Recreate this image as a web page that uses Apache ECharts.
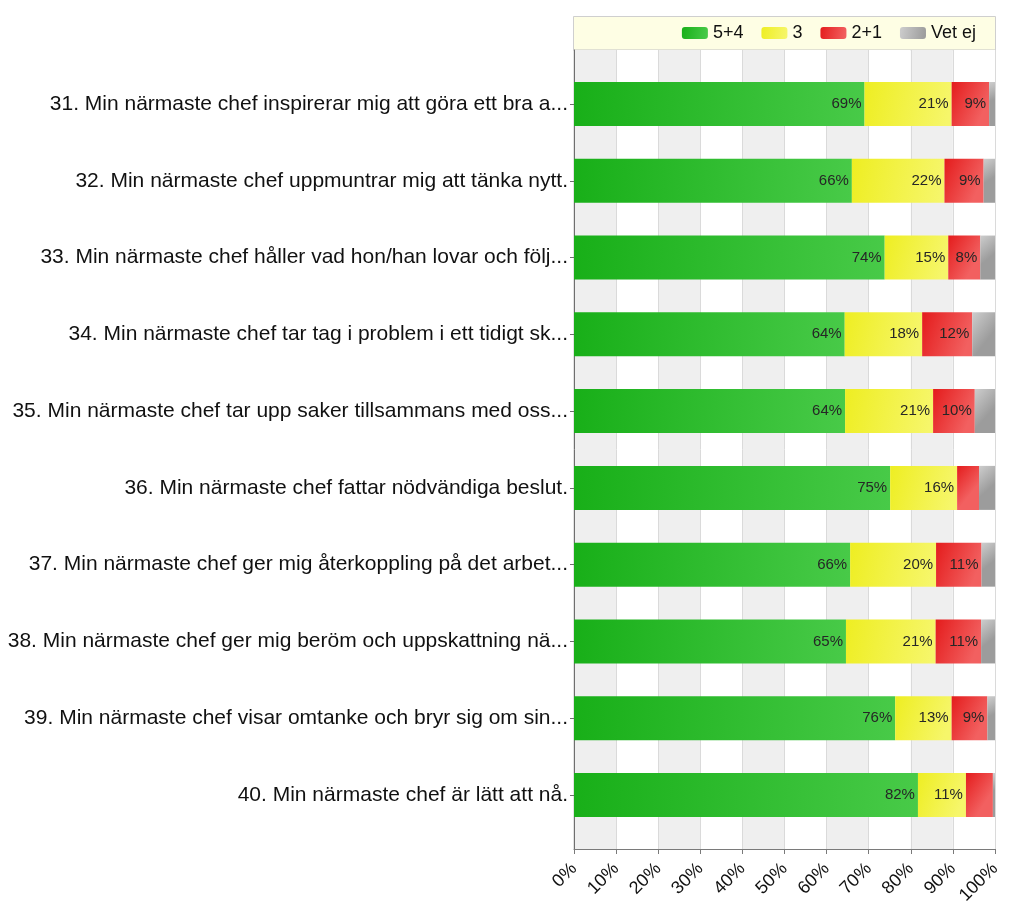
<!DOCTYPE html>
<html>
<head>
<meta charset="utf-8">
<script src="https://cdn.jsdelivr.net/npm/echarts@6/dist/echarts.min.js"></script>
<style>html,body{margin:0;padding:0;background:#fff}#c{width:1024px;height:924px}</style>
</head>
<body>
<div id="c"></div>
<script>
var categories = [
  "31. Min närmaste chef inspirerar mig att göra ett bra a...",
  "32. Min närmaste chef uppmuntrar mig att tänka nytt.",
  "33. Min närmaste chef håller vad hon/han lovar och följ...",
  "34. Min närmaste chef tar tag i problem i ett tidigt sk...",
  "35. Min närmaste chef tar upp saker tillsammans med oss...",
  "36. Min närmaste chef fattar nödvändiga beslut.",
  "37. Min närmaste chef ger mig återkoppling på det arbet...",
  "38. Min närmaste chef ger mig beröm och uppskattning nä...",
  "39. Min närmaste chef visar omtanke och bryr sig om sin...",
  "40. Min närmaste chef är lätt att nå."
];
var seriesNames = ["5+4", "3", "2+1", "Vet ej"];
var v54   = [69.0, 66.0, 73.8, 64.3, 64.4, 75.1, 65.6, 64.6, 76.3, 81.7];
var v3    = [20.7, 22.0, 15.1, 18.4, 20.9, 15.9, 20.4, 21.3, 13.4, 11.4];
var v21   = [8.9, 9.3, 7.6, 11.9, 9.9, 5.2, 10.8, 10.8, 8.5, 6.4];
var vVet  = [1.4, 2.7, 3.5, 5.4, 4.8, 3.8, 3.2, 3.3, 1.8, 0.5];
var xTicks = [0, 10, 20, 30, 40, 50, 60, 70, 80, 90, 100];

var FONT = "'Liberation Sans', Arial, sans-serif";
function grad(c0, c1) {
  return new echarts.graphic.LinearGradient(0, 0, 1, 0.4, [
    {offset: 0, color: c0}, {offset: 1, color: c1}
  ]);
}
var colors = [
  grad('#18af18', '#48ca48'),
  grad('#eeee22', '#f6f66a'),
  grad('#e41c1c', '#f26060'),
  grad('#cdcdcd', '#9c9c9c')
];
var dataSets = [v54, v3, v21, vVet];

var L = 574, R = 995, T = 50, B = 849, PAD = 15.6;
var chart = echarts.init(document.getElementById('c'), null, {renderer: 'canvas'});
var series = dataSets.map(function (d, i) {
  return {
    name: seriesNames[i],
    type: 'bar',
    stack: 'total',
    xAxisIndex: 1,
    yAxisIndex: 1,
    barWidth: 44,
    data: d,
    itemStyle: {color: colors[i]},
    label: {
      show: i < 3,
      position: 'insideRight',
      distance: 3,
      color: '#262626',
      fontSize: 15,
      fontFamily: FONT,
      formatter: function (p) { return p.value >= 7.5 ? Math.round(p.value) + '%' : ''; }
    },
    emphasis: {disabled: true},
    animation: false
  };
});

chart.setOption({
  animation: false,
  textStyle: {fontFamily: FONT},
  graphic: [{
    type: 'rect',
    left: L - 1, top: 16,
    shape: {x: 0, y: 0, width: R - L + 1, height: T - 16},
    style: {fill: '#fefee4', stroke: '#cfcfcf', lineWidth: 1},
    z: -10
  }],
  legend: {
    data: seriesNames,
    right: 48,
    top: 24,
    padding: 0,
    itemWidth: 26,
    itemHeight: 12,
    itemGap: 18,
    textStyle: {fontSize: 18, color: '#111', fontFamily: FONT},
    selectedMode: false
  },
  grid: [
    {left: L, top: T, width: R - L, height: B - T, show: true, borderColor: '#c4c4c4', borderWidth: 1, backgroundColor: 'transparent'},
    {left: L, top: T + PAD, width: R - L, height: B - T - 2 * PAD}
  ],
  xAxis: [
    {
      type: 'value', gridIndex: 0, min: 0, max: 100, interval: 10,
      axisLine: {show: true, lineStyle: {color: '#7a7a7a', width: 1}},
      axisTick: {show: true, length: 5, lineStyle: {color: '#7a7a7a'}},
      axisLabel: {
        rotate: 45, fontSize: 18, color: '#111', fontFamily: FONT, margin: 17,
        formatter: function (v) { return xTicks.indexOf(v) >= 0 ? v + '%' : ''; }
      },
      splitLine: {show: true, lineStyle: {color: '#dadada'}},
      splitArea: {show: true, areaStyle: {color: ['#efefef', '#ffffff']}}
    },
    {type: 'value', gridIndex: 1, min: 0, max: 100, show: false}
  ],
  yAxis: [
    {
      type: 'value', gridIndex: 0, min: 0, max: 1,
      axisLine: {show: true, lineStyle: {color: '#6e6e6e'}},
      axisTick: {show: false}, axisLabel: {show: false}, splitLine: {show: false}
    },
    {
      type: 'category', gridIndex: 1, inverse: true, data: categories,
      axisLine: {show: false},
      axisTick: {show: true, alignWithLabel: true, length: 4, lineStyle: {color: '#6e6e6e'}},
      axisLabel: {fontSize: 21, color: '#111', fontFamily: FONT, margin: 6},
      splitLine: {show: false}
    }
  ],
  series: series
});
</script>
</body>
</html>
